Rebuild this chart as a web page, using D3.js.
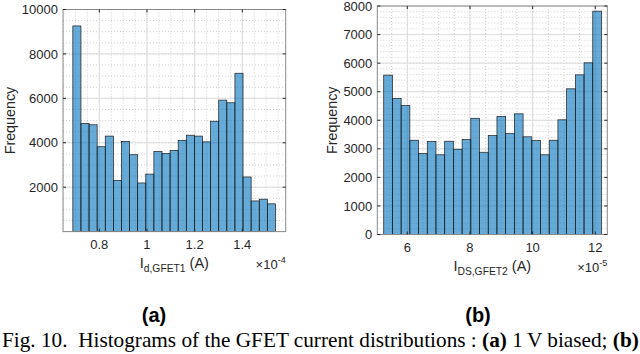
<!DOCTYPE html>
<html>
<head>
<meta charset="utf-8">
<script src="https://cdn.jsdelivr.net/npm/d3@7"></script>
<style>
body { margin: 0; background: #fff; }
svg { display: block; }
text { font-family: "Liberation Sans", Arial, Helvetica, sans-serif; fill: #262626; }
.serif { font-family: "Liberation Serif", "Times New Roman", serif; fill: #000; }
</style>
</head>
<body>
<svg id="chart" width="640" height="354"></svg>
<script>
'use strict';

// (a) I_d,GFET1, x in units of 1e-4 A
const edgesA = [0.689, 0.723, 0.757, 0.791, 0.825, 0.859, 0.893, 0.927, 0.961, 0.995,
  1.029, 1.063, 1.097, 1.131, 1.165, 1.199, 1.233, 1.267, 1.301, 1.335,
  1.369, 1.403, 1.437, 1.471, 1.505, 1.539];
const countsA = [9260, 4870, 4810, 3820, 4300, 2300, 4060, 3460, 2190, 2590,
  3610, 3520, 3650, 4100, 4340, 4300, 4040, 4970, 5920, 5800,
  7130, 2460, 1380, 1460, 1250];
const xTicksA = [0.8, 1, 1.2, 1.4];
const yTicksA = [2000, 4000, 6000, 8000, 10000];

// (b) I_DS,GFET2, x in units of 1e-5 A
const edgesB = [5.247, 5.525, 5.803, 6.081, 6.359, 6.637, 6.915, 7.193, 7.471, 7.749,
  8.027, 8.305, 8.583, 8.861, 9.139, 9.417, 9.695, 9.973, 10.251, 10.529,
  10.807, 11.085, 11.363, 11.641, 11.919, 12.197];
const countsB = [5580, 4760, 4515, 3300, 2835, 3255, 2790, 3265, 2985, 3325,
  4070, 2880, 3465, 4130, 3535, 4225, 3420, 3290, 2790, 3300,
  4015, 5100, 5590, 6010, 7820];
const xTicksB = [6, 8, 10, 12];
const yTicksB = [0, 1000, 2000, 3000, 4000, 5000, 6000, 7000, 8000];

const svg = d3.select('#chart');

function panel(cfg) {
  const x = d3.scaleLinear().domain(cfg.xDomain).range([cfg.left, cfg.right]);
  const y = d3.scaleLinear().domain(cfg.yDomain).range([cfg.bottom, cfg.top]);
  const g = svg.append('g');

  // minor grid (dotted)
  const xMinor = d3.range(Math.ceil(cfg.xDomain[0] / cfg.xMinor), cfg.xDomain[1] / cfg.xMinor + 1e-9)
    .map(i => +(i * cfg.xMinor).toFixed(4));
  const yMinor = d3.range(cfg.yDomain[0], cfg.yDomain[1] + 1, cfg.yMinor);

  g.append('g').selectAll('line')
    .data(xMinor)
    .enter().append('line')
      .attr('x1', d => x(d)).attr('x2', d => x(d))
      .attr('y1', cfg.top).attr('y2', cfg.bottom)
      .attr('stroke', '#cfcfcf')
      .attr('stroke-dasharray', '1,2');
  g.append('g').selectAll('line')
    .data(yMinor)
    .enter().append('line')
      .attr('x1', cfg.left).attr('x2', cfg.right)
      .attr('y1', d => y(d)).attr('y2', d => y(d))
      .attr('stroke', '#cfcfcf')
      .attr('stroke-dasharray', '1,2');

  // major grid
  g.append('g').selectAll('line')
    .data(cfg.xTicks)
    .enter().append('line')
      .attr('x1', d => x(d)).attr('x2', d => x(d))
      .attr('y1', cfg.top).attr('y2', cfg.bottom)
      .attr('stroke', '#dcdcdc');
  g.append('g').selectAll('line')
    .data(cfg.yTicks)
    .enter().append('line')
      .attr('x1', cfg.left).attr('x2', cfg.right)
      .attr('y1', d => y(d)).attr('y2', d => y(d))
      .attr('stroke', '#dcdcdc');

  // bars
  const bins = cfg.counts.map((c, i) => ({x0: cfg.edges[i], x1: cfg.edges[i + 1], n: c}));
  g.append('g').selectAll('rect')
    .data(bins)
    .enter().append('rect')
      .attr('x', d => x(d.x0))
      .attr('width', d => x(d.x1) - x(d.x0))
      .attr('y', d => y(d.n))
      .attr('height', d => cfg.bottom - y(d.n))
      .attr('fill', '#0072bd')
      .attr('fill-opacity', 0.6)
      .attr('stroke', '#1a1a1a')
      .attr('stroke-width', 0.7);

  // box
  g.append('rect')
    .attr('x', cfg.left).attr('y', cfg.top)
    .attr('width', cfg.right - cfg.left).attr('height', cfg.bottom - cfg.top)
    .attr('fill', 'none')
    .attr('stroke', '#8a8a8a');

  // inside ticks on all four sides
  const tl = 3;
  g.append('g').selectAll('path')
    .data(cfg.xTicks)
    .enter().append('path')
      .attr('d', d => `M${x(d)},${cfg.bottom}v${-tl}M${x(d)},${cfg.top}v${tl}`)
      .attr('stroke', '#262626');
  g.append('g').selectAll('path')
    .data(cfg.yTicks)
    .enter().append('path')
      .attr('d', d => `M${cfg.left},${y(d)}h${tl}M${cfg.right},${y(d)}h${-tl}`)
      .attr('stroke', '#262626');

  // tick labels
  g.append('g').selectAll('text')
    .data(cfg.xTicks)
    .enter().append('text')
      .attr('x', d => x(d))
      .attr('y', cfg.bottom + 17)
      .attr('text-anchor', 'middle')
      .attr('font-size', 13)
      .text(d => d3.format('~g')(d));
  g.append('g').selectAll('text')
    .data(cfg.yTicks)
    .enter().append('text')
      .attr('x', cfg.left - 5)
      .attr('y', d => y(d) + 4.6)
      .attr('text-anchor', 'end')
      .attr('font-size', 13)
      .text(d => d);

  // y label
  g.append('text')
    .attr('transform', `translate(${cfg.yLabelX},${(cfg.top + cfg.bottom) / 2}) rotate(-90)`)
    .attr('text-anchor', 'middle')
    .attr('font-size', 14.3)
    .text('Frequency');

  // x label with subscript
  const xl = g.append('text')
    .attr('x', (cfg.left + cfg.right) / 2)
    .attr('y', cfg.bottom + 36)
    .attr('text-anchor', 'middle')
    .attr('font-size', 14.5);
  xl.append('tspan').text('I');
  xl.append('tspan').attr('dy', 4).attr('font-size', 10.3).text(cfg.sub);
  xl.append('tspan').attr('dy', -4).text(' (A)');

  // exponent
  const ex = g.append('text')
    .attr('x', cfg.right)
    .attr('y', cfg.bottom + 37)
    .attr('text-anchor', 'end')
    .attr('font-size', 13);
  ex.append('tspan').text('\u00d710');
  ex.append('tspan').attr('dy', -6).attr('font-size', 9).text(cfg.exp);

  // panel letter
  svg.append('text')
    .attr('x', cfg.letterX)
    .attr('y', 322)
    .attr('text-anchor', 'middle')
    .attr('font-size', 20)
    .attr('font-weight', 'bold')
    .style('fill', '#000')
    .text(cfg.letter);
}

panel({
  edges: edgesA, counts: countsA, xTicks: xTicksA, yTicks: yTicksA,
  xDomain: [0.6477, 1.582], yDomain: [0, 10000],
  left: 63, right: 285.7, top: 9.5, bottom: 231.6,
  xMinor: 0.05, yMinor: 500, yLabelX: 15,
  sub: 'd,GFET1', exp: '-4', letter: '(a)', letterX: 154
});

panel({
  edges: edgesB, counts: countsB, xTicks: xTicksB, yTicks: yTicksB,
  xDomain: [5.042, 12.383], yDomain: [0, 8000],
  left: 377.3, right: 607.3, top: 6, bottom: 234.5,
  xMinor: 0.5, yMinor: 200, yLabelX: 337,
  sub: 'DS,GFET2', exp: '-5', letter: '(b)', letterX: 478
});

// caption
const cap = svg.append('text')
  .attr('class', 'serif')
  .attr('x', 2)
  .attr('y', 347)
  .attr('font-size', 15)
  .style('white-space', 'pre');
cap.append('tspan').text('Fig. 10.  Histograms of the GFET current distributions : ');
cap.append('tspan').attr('font-weight', 'bold').text('(a)');
cap.append('tspan').text(' 1\u2009V biased; ');
cap.append('tspan').attr('font-weight', 'bold').text('(b)');
const w = cap.node().getComputedTextLength();
cap.attr('font-size', 15 * 637 / w);
</script>
</body>
</html>
